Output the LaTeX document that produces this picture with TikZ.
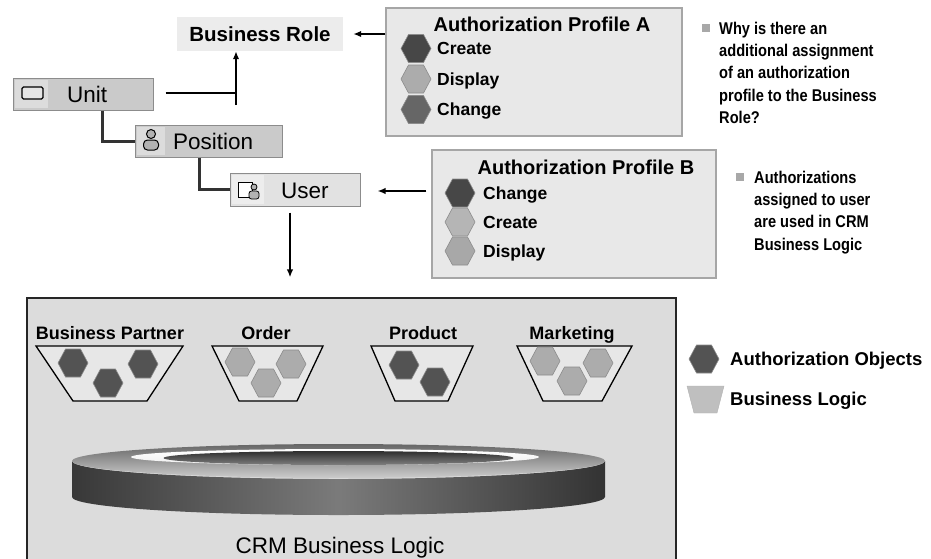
\documentclass[tikz,border=0pt]{standalone}
\usepackage{fontspec}
\setmainfont{Liberation Sans}
\newfontfamily\narrowfont[FakeStretch=0.86]{Liberation Sans}
\usetikzlibrary{arrows.meta}

\definecolor{orgfill}{HTML}{CACACA}
\definecolor{orgicon}{HTML}{DCDCDC}
\definecolor{userfill}{HTML}{E2E2E2}
\definecolor{rolefill}{HTML}{ECECEC}
\definecolor{proffill}{HTML}{E8E8E8}
\definecolor{mainfill}{HTML}{DCDCDC}
\definecolor{binfill}{HTML}{E7E7E7}
\definecolor{hexdark}{HTML}{535353}
\definecolor{hexmid}{HTML}{666666}
\definecolor{hexlight}{HTML}{ACACAC}
\definecolor{bulletgray}{HTML}{A8A8A8}

\tikzset{
  pics/hexa/.style={code={
    \filldraw[fill=#1, draw=black!45, line width=0.6pt]
      (-15,0) -- (-7.5,-14) -- (7.5,-14) -- (15,0) -- (7.5,14) -- (-7.5,14) -- cycle;}},
  orgbox/.style={draw=black!45, line width=1pt, fill=orgfill, inner sep=0},
  proftitle/.style={font=\bfseries\fontsize{20}{24}\selectfont, inner sep=0, text depth=0pt},
  entry/.style={font=\bfseries\fontsize{17.5}{21}\selectfont, inner sep=0, anchor=west, text depth=0pt},
  binlabel/.style={font=\bfseries\fontsize{18}{21}\selectfont, inner sep=0, text depth=0pt},
  bin/.style={draw=black, line width=1.3pt, fill=binfill},
  note/.style={font=\narrowfont\bfseries\fontsize{17}{22.2}\selectfont, inner sep=0,
    anchor=north west, align=left},
  bulletsq/.style={fill=bulletgray, minimum size=8, inner sep=0},
  link/.style={line width=1.8pt},
  orgline/.style={line width=3pt, black!80},
}

\begin{document}
\begin{tikzpicture}[x=1pt, y=-1pt, >={Latex[length=8pt,width=6.5pt]}]
\useasboundingbox (0,0) rectangle (931,558);

% org structure
\node[fill=rolefill, minimum width=166, minimum height=34, inner sep=0,
  font=\bfseries\fontsize{20.5}{24}\selectfont] (br) at (260,34) {Business Role};
\node[orgbox, minimum width=140, minimum height=32] (unit) at (83,94) {};
\node[orgbox, minimum width=147, minimum height=32] (pos) at (208.5,141) {};
\node[orgbox, fill=userfill, minimum width=130, minimum height=33] (user) at (295,189.5) {};

% icons
\fill[orgicon] (15,80) rectangle (48,108);
\draw[fill=black!10, line width=1.4pt, rounded corners=1.5pt] (22,87) rectangle (43,99);
\fill[orgicon] (137,127) rectangle (165,155);
\draw[fill=black!30, line width=1pt] (151,134) circle (4.5);
\draw[fill=black!30, line width=1pt, rounded corners=4pt] (143.5,150) rectangle (158.5,140);
\fill[black!7] (232,175) rectangle (264,204);
\draw[fill=white, line width=1pt] (238,182) rectangle (252,197);
\draw[fill=black!30, line width=0.8pt] (254,187) circle (3);
\draw[fill=black!30, line width=0.8pt, rounded corners=2.5pt] (249,199) rectangle (259,191);

\node[anchor=west, inner sep=0, text depth=0pt, font=\fontsize{22.5}{26}\selectfont] (unitText) at (67,94) {Unit};
\node[anchor=west, inner sep=0, text depth=0pt, font=\fontsize{22.5}{26}\selectfont] (posText) at (173,141) {Position};
\node[anchor=west, inner sep=0, text depth=0pt, font=\fontsize{22.5}{26}\selectfont] (userText) at (281,191) {User};

\draw[orgline] ([xshift=19pt]unit.south) |- (pos.west);
\draw[orgline] ([xshift=-9.5pt]pos.south) |- (user.west);

\coordinate (tee) at (236,93);
\draw[link, shorten <=12pt] (unit.east |- tee) -- (tee);
\draw[link, ->] ([yshift=-12pt]tee) -- (tee |- br.south);

% authorization profiles
\node[draw=black!35, line width=1.5pt, fill=proffill, minimum width=296, minimum height=128] (profA) at (534,72) {};
\node[proftitle] (titleA) at (542,24) {Authorization Profile A};
\foreach \name/\col [count=\i] in {Create/black!72, Display/hexlight, Change/hexmid} {
  \pic at (416,{18+30.5*\i}) {hexa=\col};
  \node[entry] (a\i) at (437,{18+30.5*\i}) {\name};
}

\node[draw=black!35, line width=1.5pt, fill=proffill, minimum width=284, minimum height=128] (profB) at (574,214) {};
\node[proftitle] (titleB) at (586,167) {Authorization Profile B};
\foreach \name/\col [count=\i] in {Change/black!72, Create/black!29, Display/black!34} {
  \pic at (460,{164+29*\i}) {hexa=\col};
  \node[entry] (b\i) at (483,{164+29*\i}) {\name};
}

\draw[link, ->, shorten >=10pt] (profA.west |- br.east) -- (br.east);
\draw[link, ->, shorten <=5pt, shorten >=17pt] (profB.west |- userText.east) -- (user.east |- userText.east);

% notes
\node[bulletsq] (sqA) at (706,28) {};
\node[note] (noteA) at (719,22) {Why is there an\\additional assignment\\of an authorization\\profile to the Business\\Role?};
\node[bulletsq] (sqB) at (740,177) {};
\node[note] (noteB) at (754,171) {Authorizations\\assigned to user\\are used in CRM\\Business Logic};

% CRM business logic
\node[draw=black!85, line width=1.2pt, fill=mainfill, minimum width=649, minimum height=264] (crm) at (351.5,430) {};
\draw[link, ->, shorten <=6pt, shorten >=20pt] ([xshift=-5pt]user.south) -- ([xshift=-5pt]user.south |- crm.north);

\draw[bin] (36,346) -- (183,346) -- (147,401) -- (73,401) -- cycle;
\node[binlabel] (bp) at (110,333) {Business Partner};
\pic at (73,363) {hexa=hexdark};
\pic at (108,383) {hexa=hexdark};
\pic at (143,364) {hexa=hexdark};

\draw[bin] (212,346) -- (323,346) -- (297,401) -- (239,401) -- cycle;
\node[binlabel] (order) at (266,333) {Order};
\pic at (240,362) {hexa=hexlight};
\pic at (266,383) {hexa=hexlight};
\pic at (291,364) {hexa=hexlight};

\draw[bin] (371,346) -- (473,346) -- (448,401) -- (395,401) -- cycle;
\node[binlabel] (product) at (423,333) {Product};
\pic at (404,365) {hexa=hexdark};
\pic at (435,382) {hexa=hexdark};

\draw[bin] (517,346) -- (632,346) -- (602,401) -- (543,401) -- cycle;
\node[binlabel] (marketing) at (572,333) {Marketing};
\pic at (545,361) {hexa=hexlight};
\pic at (572,381) {hexa=hexlight};
\pic at (598,363) {hexa=hexlight};

% ring
\shade[left color=black!78, right color=black!80, middle color=black!52]
  (72,461) -- (72,497) arc[start angle=180, end angle=0, x radius=266.5, y radius=18]
  -- (605,461) arc[start angle=0, end angle=180, x radius=266.5, y radius=18] -- cycle;
\shade[top color=black!60, bottom color=black!20] (338.5,461) ellipse[x radius=266.5, y radius=17];
\shade[top color=white, bottom color=black!6] (335,457) ellipse[x radius=204, y radius=8];
\shade[top color=black!82, bottom color=black!50] (338.5,458) ellipse[x radius=175, y radius=7];
\node[inner sep=0, text depth=0pt, font=\fontsize{22.5}{26}\selectfont] (crmText) at (340,545) {CRM Business Logic};

% legend
\pic at (704,359) {hexa=hexdark};
\node[entry, font=\bfseries\fontsize{18.5}{22}\selectfont] (legA) at (730,359) {Authorization Objects};
\draw[fill=black!25, draw=black!30] (687,386) -- (724,386) -- (717,413) -- (694,413) -- cycle;
\node[entry, font=\bfseries\fontsize{18.5}{22}\selectfont] (legB) at (730,399) {Business Logic};
\end{tikzpicture}
\end{document}
